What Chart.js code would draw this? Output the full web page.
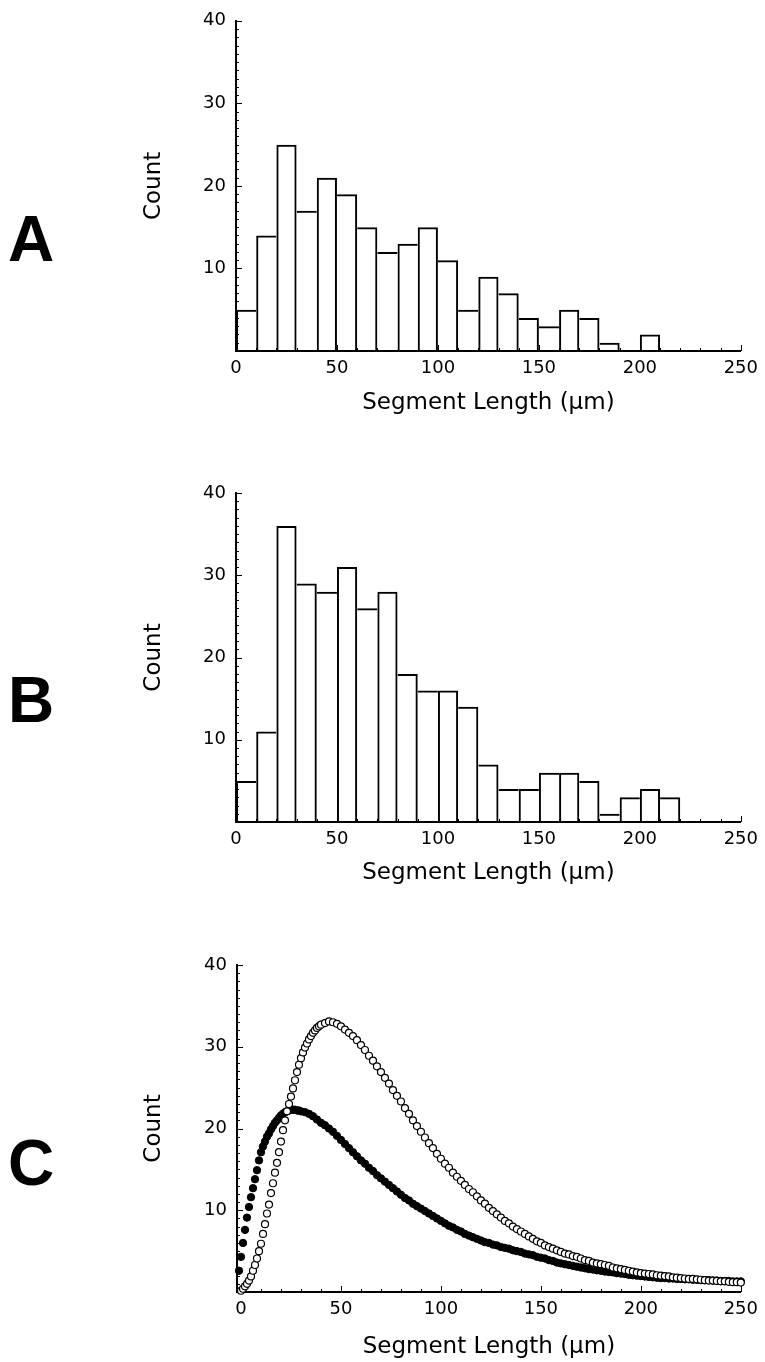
<!DOCTYPE html>
<html>
<head>
<meta charset="utf-8">
<script src="https://cdn.jsdelivr.net/npm/chart.js@4.4.1/dist/chart.umd.min.js"></script>
<style>
  html, body { margin: 0; padding: 0; background: #fff; }
  body { width: 765px; height: 1362px; position: relative; overflow: hidden; }
  canvas { position: absolute; left: 0; }
  .panel-letter { position: absolute; left: 8px; font-family: "Liberation Sans", Arial, sans-serif; font-weight: bold; font-size: 64px; line-height: 64px; color: #000; }
</style>
</head>
<body>
<div class="panel-letter" style="top:207px">A</div>
<div class="panel-letter" style="top:668px">B</div>
<div class="panel-letter" style="top:1131px">C</div>
<canvas id="chartA" width="765" height="440" style="top:0px"></canvas>
<canvas id="chartB" width="765" height="460" style="top:450px"></canvas>
<canvas id="chartC" width="765" height="442" style="top:920px"></canvas>
<script>
// ---------------- DATA ----------------
const binCentersA = [5,15,25,35,45,55,65,75,85,95,105,115,125,135,145,155,165,175,185,195,205];
const countsA     = [5,14,25,17,21,19,15,12,13,15,11,5,9,7,4,3,5,4,1,0,2];

const binCentersB = [5,15,25,35,45,55,65,75,85,95,105,115,125,135,145,155,165,175,185,195,205,215];
const countsB     = [5,11,36,29,28,31,26,28,18,16,16,14,7,4,4,6,6,5,1,3,4,3];

const xTickValues = [0,50,100,150,200,250];
const yTickValues = [10,20,30,40];

const openX = [0,1,2,3,4,5,6,7,8,9,10,11,12,13,14,15,16,17,18,19,20,21,22,23,24,25,26,27,28,29,30,31,32,33,34,35,36,37,38,39,40,
  42,44,46,48,50,52,54,56,58,60,62,64,66,68,70,72,74,76,78,80,82,84,86,88,90,92,94,96,98,100,
  102,104,106,108,110,112,114,116,118,120,122,124,126,128,130,132,134,136,138,140,142,144,146,148,150,
  152,154,156,158,160,162,164,166,168,170,172,174,176,178,180,182,184,186,188,190,192,194,196,198,200,
  202,204,206,208,210,212,214,216,218,220,222,224,226,228,230,232,234,236,238,240,242,244,246,248,250];
const openY = [0.15,0.4,0.7,1.0,1.4,1.9,2.6,3.3,4.1,5.0,5.9,7.1,8.3,9.6,10.7,12.1,13.3,14.6,15.8,17.1,18.4,19.8,21.0,22.1,23.0,23.9,24.9,25.9,26.9,27.8,28.6,29.3,29.9,30.4,30.9,31.3,31.7,32.0,32.3,32.5,32.7,
  32.9,33.1,33.0,32.8,32.5,32.1,31.7,31.3,30.8,30.2,29.6,28.9,28.3,27.6,26.9,26.2,25.5,24.7,24.0,23.3,22.5,21.8,21.0,20.3,19.6,18.9,18.2,17.6,16.9,16.3,
  15.7,15.2,14.6,14.1,13.6,13.1,12.6,12.2,11.7,11.2,10.8,10.3,9.9,9.5,9.1,8.7,8.4,8.0,7.7,7.4,7.1,6.8,6.5,6.2,6.0,
  5.7,5.5,5.3,5.1,4.9,4.7,4.6,4.4,4.3,4.1,3.9,3.8,3.6,3.5,3.4,3.3,3.2,3.0,2.9,2.8,2.7,2.6,2.5,2.4,2.3,
  2.25,2.2,2.15,2.05,2.0,1.95,1.9,1.8,1.75,1.7,1.65,1.6,1.6,1.55,1.5,1.45,1.4,1.4,1.35,1.3,1.3,1.25,1.2,1.2,1.15];

const filledX = [-1,0,1,2,3,4,5,6,7,8,9,10,11,12,13,14,15,16,17,18,19,20,21,22,23,24,25,26,27,28,29,30,
  32,34,36,38,40,42,44,46,48,50,52,54,56,58,60,62,64,66,68,70,72,74,76,78,80,82,84,86,88,90,92,94,96,98,100,
  102,104,106,108,110,112,114,116,118,120,122,124,126,128,130,132,134,136,138,140,142,144,146,148,150,
  152,154,156,158,160,162,164,166,168,170,172,174,176,178,180,182,184,186,188,190,192,194,196,198,200,
  202,204,206,208,210,212,214,216,218,220,222,224,226,228,230,232,234,236,238,240,242,244,246,248,250];
const filledY = [2.6,4.3,6.0,7.6,9.1,10.4,11.6,12.7,13.8,14.9,16.1,17.1,17.8,18.4,19.0,19.4,19.9,20.3,20.7,21.0,21.3,21.6,21.8,22.0,22.1,22.2,22.3,22.3,22.3,22.2,22.2,22.1,
  22.0,21.8,21.5,21.1,20.7,20.4,20.0,19.6,19.1,18.6,18.1,17.6,17.1,16.6,16.1,15.7,15.2,14.8,14.3,13.9,13.5,13.1,12.7,12.3,11.9,11.5,11.2,10.8,10.5,10.2,9.9,9.6,9.3,9.0,8.7,
  8.4,8.1,7.9,7.6,7.4,7.1,6.9,6.7,6.5,6.3,6.1,6.0,5.8,5.7,5.5,5.4,5.3,5.1,5.0,4.9,4.7,4.6,4.5,4.3,4.2,
  4.1,3.9,3.8,3.6,3.5,3.4,3.3,3.2,3.1,3.0,2.9,2.8,2.75,2.65,2.6,2.5,2.45,2.4,2.3,2.25,2.2,2.1,2.05,2.0,1.95,
  1.9,1.85,1.8,1.75,1.7,1.7,1.65,1.65,1.6,1.6,1.55,1.55,1.5,1.5,1.45,1.45,1.45,1.4,1.4,1.35,1.35,1.35,1.3,1.3,1.3];

// ---------------- RENDERING ----------------
Chart.defaults.font.family = "'DejaVu Sans', sans-serif";
Chart.defaults.color = '#000';

const innerTicks = {
  id: 'innerTicks',
  afterDraw(chart) {
    const ctx = chart.ctx;
    const xs = chart.scales.x, ys = chart.scales.y;
    const area = chart.chartArea;
    ctx.save();
    ctx.strokeStyle = '#000';
    ctx.lineWidth = 1;
    ctx.beginPath();
    for (let v = 1; v <= ys.max; v += 1) {
      const py = Math.round(ys.getPixelForValue(v)) + 0.5;
      const len = (v % 10 === 0) ? 6 : 3;
      ctx.moveTo(area.left, py);
      ctx.lineTo(area.left + len, py);
    }
    const startX = Math.ceil(xs.min / 10) * 10;
    for (let v = Math.max(startX, 10); v <= xs.max; v += 10) {
      const px = Math.round(xs.getPixelForValue(v)) + 0.5;
      const len = (v % 50 === 0) ? 6 : 3;
      ctx.moveTo(px, area.bottom);
      ctx.lineTo(px, area.bottom - len);
    }
    ctx.stroke();
    ctx.restore();
  }
};

function axisOptions(cfg) {
  return {
    x: {
      type: 'linear',
      min: cfg.xMin, max: 250,
      offset: false,
      afterBuildTicks: (scale) => { scale.ticks = xTickValues.map(v => ({ value: v })); },
      afterFit: (scale) => { scale.height = cfg.xHeight; },
      grid: { display: true, drawOnChartArea: false, drawTicks: false },
      border: { display: true, color: '#000', width: 2 },
      ticks: { font: { size: 18 }, padding: 7, maxRotation: 0, autoSkip: false, color: '#000' },
      title: { display: true, text: 'Segment Length (μm)', font: { size: 23 }, color: '#000',
               padding: { top: 0, bottom: cfg.titlePad } }
    },
    y: {
      type: 'linear',
      min: 0, max: 40,
      afterBuildTicks: (scale) => { scale.ticks = [0].concat(yTickValues).map(v => ({ value: v })); },
      afterFit: (scale) => { scale.width = cfg.left; },
      grid: { display: true, drawOnChartArea: false, drawTicks: false },
      border: { display: true, color: '#000', width: 2 },
      ticks: { font: { size: 18 }, padding: 10, color: '#000',
               callback: (v) => (v === 0 ? '' : String(v)) },
      title: { display: true, text: 'Count', font: { size: 23 }, color: '#000',
               padding: { top: 140, bottom: 0 } }
    }
  };
}

function baseOptions(cfg) {
  return {
    responsive: false,
    devicePixelRatio: 1,
    animation: false,
    events: [],
    layout: { padding: { left: 0, right: 765 - cfg.right, top: cfg.top, bottom: 0 } },
    plugins: { legend: { display: false }, tooltip: { enabled: false } },
    scales: axisOptions(cfg)
  };
}

// each shared bar edge is drawn once, by the taller of the two neighbouring bars
function edgeWidths(counts) {
  return (ctx) => {
    const i = ctx.dataIndex;
    const n = counts.length;
    const v = counts[i];
    const left = (i === 0 || v >= counts[i - 1]) ? 2 : 0;
    const right = (i === n - 1 || v > counts[i + 1]) ? 2 : 0;
    return { top: 2, left: left, right: right, bottom: 0 };
  };
}

function histogram(id, centers, counts, cfg) {
  new Chart(document.getElementById(id), {
    type: 'bar',
    data: {
      datasets: [{
        data: centers.map((c, i) => ({ x: c, y: counts[i] })),
        backgroundColor: 'rgba(255,255,255,0)',
        borderColor: '#000',
        borderWidth: edgeWidths(counts),
        borderSkipped: false,
        barPercentage: 1,
        categoryPercentage: 1,
        inflateAmount: 0
      }]
    },
    options: baseOptions(cfg),
    plugins: [innerTicks]
  });
}

histogram('chartA', binCentersA, countsA, { xMin: 0, left: 236, right: 742, top: 18, xHeight: 89, titlePad: 23 });
histogram('chartB', binCentersB, countsB, { xMin: 0, left: 236, right: 742, top: 43, xHeight: 88, titlePad: 23 });

new Chart(document.getElementById('chartC'), {
  type: 'scatter',
  data: {
    datasets: [
      {
        label: 'open',
        data: openX.map((x, i) => ({ x: x, y: openY[i] })),
        pointRadius: 3.5,
        pointBorderWidth: 1.2,
        pointBackgroundColor: '#fff',
        pointBorderColor: '#000',
        showLine: false,
        clip: false
      },
      {
        label: 'filled',
        data: filledX.map((x, i) => ({ x: x, y: filledY[i] })),
        pointRadius: 3.7,
        pointBorderWidth: 1,
        pointBackgroundColor: '#000',
        pointBorderColor: '#000',
        showLine: false,
        clip: false
      }
    ]
  },
  options: baseOptions({ xMin: -2, left: 237, right: 741, top: 45, xHeight: 70, titlePad: 1 }),
  plugins: [innerTicks]
});
</script>
</body>
</html>
